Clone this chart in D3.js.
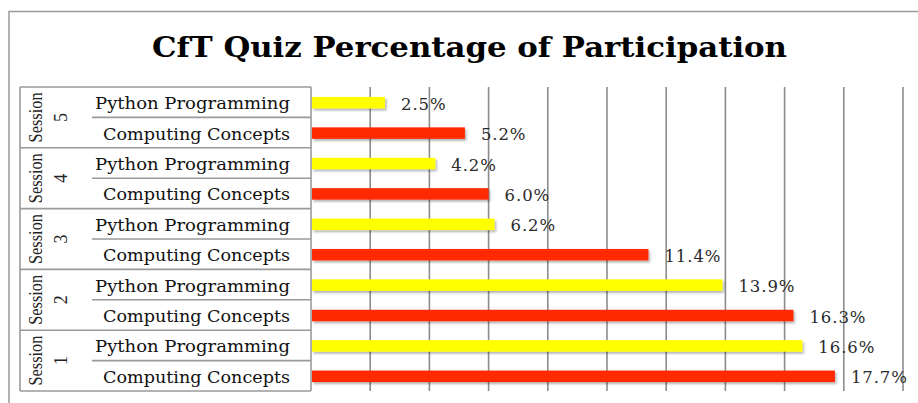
<!DOCTYPE html>
<html><head><meta charset="utf-8">
<script src="https://cdn.jsdelivr.net/npm/d3@7"></script>
<style>body{margin:0;background:#fff}svg{display:block}</style>
</head><body><svg id="c" width="918" height="403"></svg>
<script>
const sessions = ["1","2","3","4","5"];
const subjects = ["Computing Concepts","Python Programming"];
const computingValues = [17.7, 16.3, 11.4, 6.0, 5.2];
const pythonValues = [16.6, 13.9, 6.2, 4.2, 2.5];
const xTicks = [0,2,4,6,8,10,12,14,16,18,20];
const titleText = "CfT Quiz Percentage of Participation";

const rows = [];
sessions.forEach((s,i)=>{
  rows.push({session:s, subject:subjects[0], value:computingValues[i], key:s+"|"+subjects[0], color:"#ff2a00"});
  rows.push({session:s, subject:subjects[1], value:pythonValues[i], key:s+"|"+subjects[1], color:"#ffff00"});
});

const svg = d3.select("#c");
const defs = svg.append("defs");
const f = defs.append("filter").attr("id","sh").attr("x","-5%").attr("y","-50%").attr("width","115%").attr("height","250%");
f.append("feDropShadow").attr("dx",1.5).attr("dy",2).attr("stdDeviation",1.2).attr("flood-color","#000").attr("flood-opacity",0.3);

// frame
svg.append("rect").attr("x",9).attr("y",11.5).attr("width",930).attr("height",420)
  .attr("fill","#fff").attr("stroke","#9a9a9a").attr("stroke-width",1.5);

// title
svg.append("text").attr("x",469.5).attr("y",57).attr("text-anchor","middle")
  .attr("font-family","'DejaVu Serif',serif").attr("font-weight","bold").attr("font-size",27)
  .attr("textLength",635).attr("lengthAdjust","spacingAndGlyphs").attr("fill","#000").text(titleText);

const x0 = 311, x1 = 903, yTop = 87, yBot = 391;
const x = d3.scaleLinear().domain([0,20]).range([x0,x1]);
const y = d3.scaleBand().domain(rows.map(d=>d.key)).range([yBot,yTop]).padding(0);
const bw = y.bandwidth();

// gridlines
svg.append("g").selectAll("line").data(xTicks.slice(1)).join("line")
  .attr("x1",d=>x(d)).attr("x2",d=>x(d)).attr("y1",yTop).attr("y2",yBot)
  .attr("stroke","#8c8c8c").attr("stroke-width",1.6);

// category box
const box = svg.append("g").attr("stroke","#9a9a9a").attr("stroke-width",1.6);
box.append("line").attr("x1",20).attr("x2",20).attr("y1",yTop).attr("y2",yBot);
box.append("line").attr("x1",x0).attr("x2",x0).attr("y1",yTop).attr("y2",yBot);
const groupEdges = [yTop, ...sessions.map(s=>y(s+"|"+subjects[0])+bw)];
box.selectAll("line.g").data(groupEdges).join("line").attr("class","g")
  .attr("x1",20).attr("x2",x0).attr("y1",d=>d).attr("y2",d=>d);
box.selectAll("line.r").data(sessions).join("line").attr("class","r")
  .attr("x1",92).attr("x2",x0).attr("y1",s=>y(s+"|"+subjects[0])).attr("y2",s=>y(s+"|"+subjects[0]));

// bars
const bh = 11.5;
svg.append("g").selectAll("rect").data(rows).join("rect")
  .attr("x",x0+1).attr("y",d=>y(d.key)+bw/2-bh/2+0.5).attr("height",bh)
  .attr("width",d=>x(d.value)-x0-1).attr("fill",d=>d.color).attr("filter","url(#sh)");

// value labels
svg.append("g").selectAll("text").data(rows).join("text")
  .attr("x",d=>x(d.value)+16).attr("y",d=>y(d.key)+bw/2+7.5)
  .attr("font-family","'DejaVu Serif',serif").attr("font-size",16.5).attr("fill","#2a2a2a")
  .attr("letter-spacing",0.9).text(d=>d.value.toFixed(1)+"%");

// subject labels
svg.append("g").selectAll("text").data(rows).join("text")
  .attr("x",290).attr("y",d=>y(d.key)+bw/2+7).attr("text-anchor","end")
  .attr("font-family","'DejaVu Serif',serif").attr("font-size",16.5).attr("fill","#111")
  .attr("textLength",d=>d.subject===subjects[1]?195:187).attr("lengthAdjust","spacingAndGlyphs")
  .text(d=>d.subject);

// session labels
const sg = svg.append("g").selectAll("g").data(sessions).join("g")
  .attr("transform",s=>`translate(0,${y(s+"|"+subjects[0])}) rotate(-90)`);
sg.append("text").attr("x",0).attr("y",42).attr("text-anchor","middle")
  .attr("font-family","'Liberation Serif',serif").attr("font-size",18).attr("fill","#222")
  .attr("textLength",50).attr("lengthAdjust","spacingAndGlyphs").text("Session");
sg.append("text").attr("x",0).attr("y",67).attr("text-anchor","middle")
  .attr("font-family","'Liberation Serif',serif").attr("font-size",18).attr("fill","#222")
  .text(s=>s);
</script></body></html>
